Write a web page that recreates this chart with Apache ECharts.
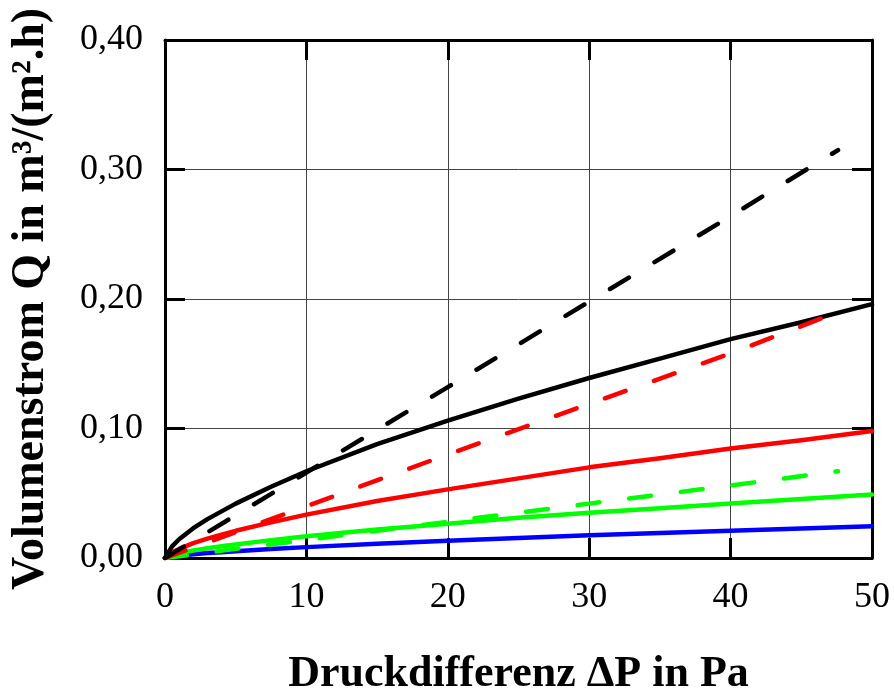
<!DOCTYPE html>
<html>
<head>
<meta charset="utf-8">
<script src="https://cdn.jsdelivr.net/npm/echarts@6/dist/echarts.min.js"></script>
<style>
html,body{margin:0;padding:0;background:#fff;}
#chart{width:894px;height:692px;}
</style>
</head>
<body>
<div id="chart"></div>
<script>
// Data
const xSolid = [0, 0.5, 1, 2, 3, 4, 5, 7.5, 10, 15, 20, 25, 30, 35, 40, 45, 50];
const blackSolid = [0, 0.009, 0.0145, 0.023, 0.030, 0.036, 0.042, 0.055, 0.067, 0.088, 0.106, 0.123, 0.139, 0.154, 0.169, 0.182, 0.196];
const redSolid   = [0, 0.0045, 0.007, 0.0115, 0.015, 0.018, 0.021, 0.0275, 0.0335, 0.044, 0.053, 0.0615, 0.070, 0.077, 0.0845, 0.091, 0.098];
const greenSolid = [0, 0.002, 0.0036, 0.0058, 0.0075, 0.009, 0.0105, 0.0138, 0.0168, 0.022, 0.0265, 0.031, 0.035, 0.0385, 0.042, 0.0455, 0.049];
const blueSolid  = [0, 0.001, 0.0018, 0.0029, 0.0038, 0.0045, 0.0053, 0.0069, 0.0084, 0.011, 0.0133, 0.0155, 0.0175, 0.0193, 0.021, 0.0228, 0.0245];

const xDashed = [0, 10, 20, 30, 40, 47.6];
const blackDashed = [0, 0.066, 0.132, 0.198, 0.264, 0.315];
const redDashed   = [0, 0.040, 0.080, 0.119, 0.158, 0.190];
const greenDashed = [0, 0.014, 0.028, 0.042, 0.056, 0.067];

const xTickLabels = ['0', '10', '20', '30', '40', '50'];
const yTickLabels = ['0,00', '0,10', '0,20', '0,30', '0,40'];

const xTitle = 'Druckdifferenz ΔP in Pa';
const yTitle = 'Volumenstrom Q in m³/(m².h)';

function pairs(xs, ys) { return xs.map((x, i) => [x, ys[i]]); }

const FONT = '"Liberation Serif", "Times New Roman", serif';

function lineSeries(xs, ys, color, dashed) {
  return {
    type: 'line',
    data: pairs(xs, ys),
    showSymbol: false,
    symbol: 'none',
    smooth: false,
    silent: true,
    lineStyle: {
      color: color,
      width: 4.5,
      type: dashed ? [22, 30] : 'solid',
      cap: 'round',
      join: 'round'
    },
    z: dashed ? 3 : 2
  };
}

const axisLine = { show: true, onZero: false, lineStyle: { color: '#000', width: 3 } };
const axisTick = { show: true, inside: true, length: 20, lineStyle: { color: '#000', width: 3 } };

const chart = echarts.init(document.getElementById('chart'), null, { renderer: 'canvas' });
chart.setOption({
  animation: false,
  backgroundColor: '#fff',
  grid: { left: 165, right: 22, top: 40, bottom: 134, containLabel: false, outerBoundsMode: 'none' },
  xAxis: [
    {
      type: 'value', min: 0, max: 50, interval: 10, position: 'bottom',
      axisLine: axisLine, axisTick: axisTick,
      splitLine: { show: true, lineStyle: { color: '#444', width: 1 } },
      axisLabel: {
        margin: 22, color: '#000', fontFamily: FONT, fontSize: 36,
        formatter: (v) => xTickLabels[Math.round(v / 10)]
      },
      name: xTitle, nameLocation: 'middle', nameGap: 95,
      nameTextStyle: { color: '#000', fontFamily: FONT, fontSize: 44, fontWeight: 'bold' }
    },
    {
      type: 'value', min: 0, max: 50, interval: 10, position: 'top',
      axisLine: axisLine, axisTick: axisTick,
      splitLine: { show: false }, axisLabel: { show: false }
    }
  ],
  yAxis: [
    {
      type: 'value', min: 0, max: 0.4, interval: 0.1, position: 'left',
      axisLine: axisLine, axisTick: axisTick,
      splitLine: { show: true, lineStyle: { color: '#444', width: 1 } },
      axisLabel: {
        margin: 22, color: '#000', fontFamily: FONT, fontSize: 36,
        formatter: (v) => yTickLabels[Math.round(v * 10)]
      },
      name: yTitle, nameLocation: 'middle', nameGap: 111, nameRotate: 90,
      nameTextStyle: { color: '#000', fontFamily: FONT, fontSize: 46, fontWeight: 'bold' }
    },
    {
      type: 'value', min: 0, max: 0.4, interval: 0.1, position: 'right',
      axisLine: axisLine, axisTick: axisTick,
      splitLine: { show: false }, axisLabel: { show: false }
    }
  ],
  series: [
    lineSeries(xSolid, blueSolid, '#0000ff', false),
    lineSeries(xSolid, greenSolid, '#00ff00', false),
    lineSeries(xSolid, redSolid, '#ff0000', false),
    lineSeries(xSolid, blackSolid, '#000000', false),
    lineSeries(xDashed, greenDashed, '#00ff00', true),
    lineSeries(xDashed, redDashed, '#ff0000', true),
    lineSeries(xDashed, blackDashed, '#000000', true)
  ]
});
</script>
</body>
</html>
